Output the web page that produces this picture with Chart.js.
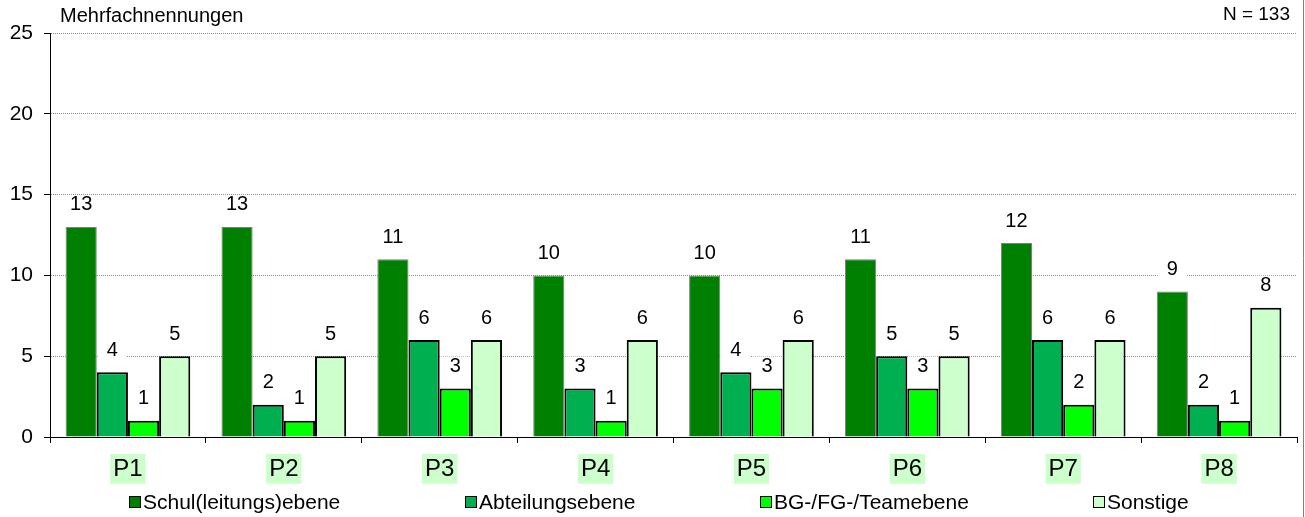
<!DOCTYPE html>
<html>
<head>
<meta charset="utf-8">
<script src="https://cdn.jsdelivr.net/npm/chart.js@4.4.1/dist/chart.umd.min.js"></script>
<style>
  html, body { margin: 0; padding: 0; background: #fff; }
  #wrap { width: 1305px; height: 517px; position: relative; }
</style>
</head>
<body>
<div id="wrap"><canvas id="c" width="1305" height="517"></canvas></div>
<script>
const categories = ['P1', 'P2', 'P3', 'P4', 'P5', 'P6', 'P7', 'P8'];
const seriesNames = ['Schul(leitungs)ebene', 'Abteilungsebene', 'BG-/FG-/Teamebene', 'Sonstige'];
const schulValues = [13, 13, 11, 10, 10, 11, 12, 9];
const abteilungValues = [4, 2, 6, 3, 4, 5, 6, 2];
const teamValues = [1, 1, 3, 1, 3, 3, 2, 1];
const sonstigeValues = [5, 5, 6, 6, 6, 5, 6, 8];
const yTicks = [0, 5, 10, 15, 20, 25];
const subtitleLeft = 'Mehrfachnennungen';
const subtitleRight = 'N = 133';

const FONT = '"Liberation Sans", Arial, sans-serif';

const valueLabels = {
  id: 'valueLabels',
  beforeDatasetsDraw(chart) {
    const ctx = chart.ctx;
    ctx.save();
    ctx.font = '20px ' + FONT;
    ctx.fillStyle = '#fff';
    chart.data.datasets.forEach((ds, i) => {
      chart.getDatasetMeta(i).data.forEach((bar, j) => {
        const t = String(ds.data[j]);
        const w = ctx.measureText(t).width + 18;
        ctx.fillRect(bar.x - w / 2, bar.y - 32, w, 20);
      });
    });
    ctx.restore();
  },
  afterDatasetsDraw(chart) {
    const ctx = chart.ctx;
    ctx.save();
    ctx.font = '20px ' + FONT;
    ctx.fillStyle = '#000';
    ctx.textAlign = 'center';
    ctx.textBaseline = 'middle';
    chart.data.datasets.forEach((ds, i) => {
      chart.getDatasetMeta(i).data.forEach((bar, j) => {
        ctx.fillText(String(ds.data[j]), bar.x, bar.y - 22);
      });
    });
    ctx.restore();
  },
  afterDraw(chart) {
    const ctx = chart.ctx;
    ctx.save();
    ctx.fillStyle = '#000';
    ctx.textBaseline = 'middle';
    ctx.font = '20px ' + FONT;
    ctx.textAlign = 'left';
    ctx.fillText(subtitleLeft, 60, 16);
    ctx.font = '19px ' + FONT;
    ctx.textAlign = 'right';
    ctx.fillText(subtitleRight, 1290, 15);
    ctx.strokeStyle = '#808080';
    ctx.lineWidth = 1;
    ctx.beginPath();
    ctx.moveTo(1303.5, 0);
    ctx.lineTo(1303.5, 517);
    ctx.stroke();
    const xs = [129, 465, 760, 1093];
    const yc = 502;
    ctx.font = '21px ' + FONT;
    ctx.textAlign = 'left';
    chart.data.datasets.forEach((ds, i) => {
      const x = xs[i];
      ctx.fillStyle = ds.backgroundColor;
      ctx.fillRect(x, yc - 6, 12, 12);
      ctx.strokeStyle = '#000';
      ctx.lineWidth = 1;
      ctx.strokeRect(x + 0.5, yc - 5.5, 11, 11);
      ctx.fillStyle = '#000';
      ctx.fillText(ds.label, x + 14, yc + 1);
    });
    ctx.restore();
  }
};

new Chart(document.getElementById('c'), {
  type: 'bar',
  data: {
    labels: categories,
    datasets: [
      { label: seriesNames[0], data: schulValues, backgroundColor: '#008000', borderColor: '#7f7f7f', borderWidth: 1 },
      { label: seriesNames[1], data: abteilungValues, backgroundColor: '#00B050', borderColor: '#000', borderWidth: 2 },
      { label: seriesNames[2], data: teamValues, backgroundColor: '#00FF00', borderColor: '#000', borderWidth: 2 },
      { label: seriesNames[3], data: sonstigeValues, backgroundColor: '#CCFFCC', borderColor: '#000', borderWidth: 2 }
    ]
  },
  options: {
    responsive: false,
    animation: false,
    devicePixelRatio: 1,
    layout: { padding: { top: 33, right: 8, left: 0, bottom: 0 } },
    plugins: { legend: { display: false }, tooltip: { enabled: false }, title: { display: false } },
    datasets: { bar: { categoryPercentage: 0.8, barPercentage: 1.0 } },
    scales: {
      x: {
        grid: { offset: true, drawOnChartArea: false, drawTicks: true, tickLength: 6, color: '#000', tickColor: '#000' },
        border: { display: true, color: '#000', width: 1 },
        ticks: {
          color: '#000',
          font: { family: FONT, size: 24 },
          padding: 12,
          maxRotation: 0,
          showLabelBackdrop: true,
          backdropColor: '#CCFFCC',
          backdropPadding: { top: 1, bottom: 0, left: 3, right: 3 }
        },
        afterFit(scale) { scale.height = 80; }
      },
      y: {
        min: 0,
        max: 25,
        afterBuildTicks(scale) { scale.ticks = yTicks.map(v => ({ value: v })); },
        grid: {
          drawTicks: true,
          tickLength: 6,
          color: (c) => (c.tick && c.tick.value === 0) ? 'rgba(0,0,0,0)' : '#8a8a8a',
          tickColor: '#000',
          tickBorderDash: [],
          lineWidth: 1
        },
        border: { display: true, color: '#000', width: 1, dash: [1, 1] },
        ticks: { color: '#000', font: { family: FONT, size: 21 }, padding: 11 },
        afterFit(scale) { scale.width = 50; }
      }
    }
  },
  plugins: [valueLabels]
});
</script>
</body>
</html>
